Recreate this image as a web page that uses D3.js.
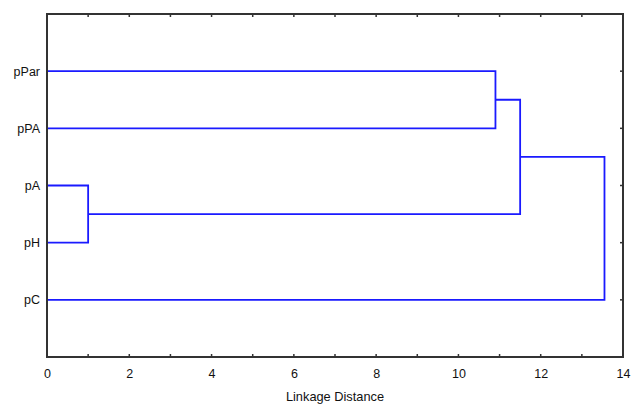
<!DOCTYPE html>
<html><head><meta charset="utf-8">
<script src="https://cdn.jsdelivr.net/npm/d3@7/dist/d3.min.js"></script>
<style>body{margin:0;background:#fff}svg{display:block}text{font-family:"Liberation Sans",Arial,sans-serif;}</style>
</head><body><svg id="c" width="637" height="404"></svg>
<script>
// Leaves in display order (top to bottom)
const leaves = ["pPar","pPA","pA","pH","pC"];
// Merges: [left child, right child, linkage distance]
const merges = [
  ["pA","pH",1.0],
  ["pPar","pPA",10.9],
  ["m1","m0",11.5],
  ["m2","pC",13.55]
];
const xTicks = [0,1,2,3,4,5,6,7,8,9,10,11,12,13,14];
const xTickLabels = [0,2,4,6,8,10,12,14];
const xTitle = "Linkage Distance";

const svg = d3.select("#c");
const L=47,R=623,T=14,B=357;
const x = d3.scaleLinear().domain([0,14]).range([L,R]);
const y = d3.scalePoint().domain(["_top",...leaves,"_bot"]).range([T,B]);

const node = {};
leaves.forEach(l=>node[l]={y:y(l),h:0});
const blue="#1a1aff";
const g = svg.append("g");
merges.forEach((m,i)=>{
  const a=node[m[0]], b=node[m[1]], h=m[2];
  const path = d3.path();
  path.moveTo(x(a.h),a.y); path.lineTo(x(h),a.y); path.lineTo(x(h),b.y); path.lineTo(x(b.h),b.y);
  g.append("path").attr("d",path.toString()).attr("fill","none").attr("stroke",blue).attr("stroke-width",1.8);
  node["m"+i]={y:(a.y+b.y)/2,h:h};
});

// frame
svg.append("rect").attr("x",L).attr("y",T).attr("width",R-L).attr("height",B-T)
  .attr("fill","none").attr("stroke","#333").attr("stroke-width",2);

// bottom axis
const bx = d3.axisBottom(x).tickValues(xTicks).tickSize(0).tickFormat(d=>xTickLabels.includes(d)?d:"");
const bg = svg.append("g").attr("transform",`translate(0,${B})`).call(bx);
bg.select(".domain").remove();
bg.selectAll("text").attr("dy",0).attr("y",21).attr("font-size",12.5).attr("fill","#111");
xTicks.forEach(t=>{
  svg.append("line").attr("x1",x(t)).attr("x2",x(t)).attr("y1",B).attr("y2",B-3).attr("stroke","#333").attr("stroke-width",1.5);
  svg.append("line").attr("x1",x(t)).attr("x2",x(t)).attr("y1",T).attr("y2",T+3).attr("stroke","#333").attr("stroke-width",1.5);
});
// left axis labels
const ly = d3.axisLeft(y).tickValues(leaves).tickSize(0).tickPadding(7);
const lg = svg.append("g").attr("transform",`translate(${L},0)`).call(ly);
lg.select(".domain").remove();
lg.selectAll("text").attr("font-size",12.5).attr("fill","#111");
leaves.forEach(l=>{
  svg.append("line").attr("x1",R).attr("x2",R-3).attr("y1",y(l)).attr("y2",y(l)).attr("stroke","#333").attr("stroke-width",1.5);
});
svg.append("text").attr("x",(L+R)/2).attr("y",401).attr("text-anchor","middle").attr("font-size",12.8).attr("fill","#111").text(xTitle);
</script></body></html>
